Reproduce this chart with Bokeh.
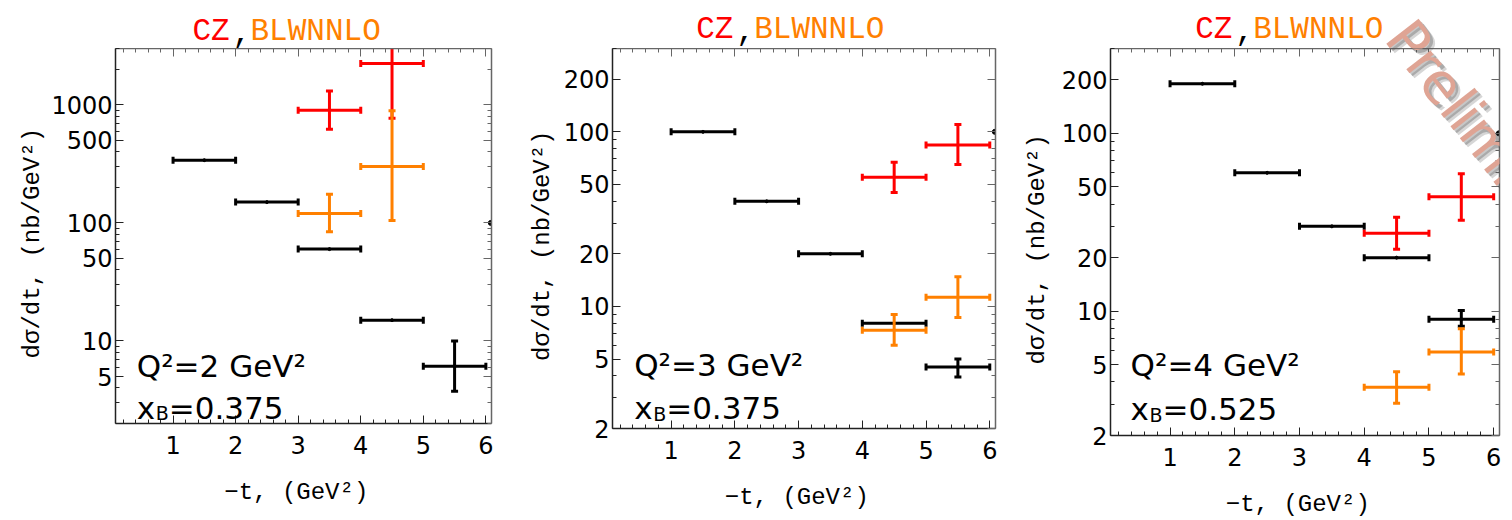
import numpy as np
from bokeh.plotting import figure
from bokeh.models import Range1d, FixedTicker, LinearAxis, LogAxis, Label
from bokeh.layouts import row, column
from bokeh.embed import file_html
from bokeh.resources import INLINE

# ---------------- data ----------------
t_lo = [1, 2, 3, 4, 5]
t_hi = [2, 3, 4, 5, 6]
t_mid = [1.5, 2.5, 3.5, 4.5, 5.5]
model_lo = [4, 5]
model_hi = [5, 6]
model_mid = [4.5, 5.5]
p1_model_lo = [3, 4]
p1_model_hi = [4, 5]
p1_model_mid = [3.5, 4.5]

# Panel 1: Q2=2, xB=0.375
p1_black = [340, 150, 60, 15, 6.1]
p1_black_elo = [340, 150, 60, 15, 3.75]
p1_black_ehi = [340, 150, 60, 15, 10.0]
p1_red = [900, 2240]
p1_red_elo = [620, 770]
p1_red_ehi = [1310, 3700]
p1_orange = [120, 300]
p1_orange_elo = [84, 105]
p1_orange_ehi = [175, 890]

# Panel 2: Q2=3, xB=0.375
p2_black = [100, 40, 20, 8.0, 4.5]
p2_black_elo = [100, 40, 20, 8.0, 3.95]
p2_black_ehi = [100, 40, 20, 8.0, 5.0]
p2_red = [55, 84]
p2_red_elo = [45, 65]
p2_red_ehi = [67, 110]
p2_orange = [7.3, 11.3]
p2_orange_elo = [6.0, 8.65]
p2_orange_ehi = [9.0, 14.8]

# Panel 3: Q2=4, xB=0.525
p3_black = [190, 60, 30, 20, 9.0]
p3_black_elo = [190, 60, 30, 20, 8.24]
p3_black_ehi = [190, 60, 30, 20, 10.1]
p3_red = [27.4, 44]
p3_red_elo = [22.3, 32.5]
p3_red_ehi = [33.7, 59.3]
p3_orange = [3.73, 5.9]
p3_orange_elo = [3.04, 4.43]
p3_orange_ehi = [4.56, 7.97]

edge_dot_x = [6.08]
edge_dot_y = [100]

x_ticks = [1, 2, 3, 4, 5, 6]
x_minor = [round(0.2 * i, 1) for i in range(1, 31)]
p1_yticks = [5, 10, 50, 100, 500, 1000]
p23_yticks = [2, 5, 10, 20, 50, 100, 200]
y_minor = [m * 10 ** e for e in range(0, 4) for m in range(1, 10)]

RED = "#FF0000"
ORANGE = "#FF8000"
BLACK = "#000000"

LW = 3
CAP = 7
TOP = 48
H = 520 - TOP


def errbars(p, lo, hi, mid, y, elo, ehi, color, dot=False):
    p.segment(x0=lo, x1=hi, y0=y, y1=y, line_color=color, line_width=LW)
    p.scatter(x=lo + hi, y=y + y, marker="dash", angle=np.pi / 2, size=CAP,
              line_color=color, line_width=LW)
    vm = [m for m, a, b in zip(mid, elo, ehi) if b > a]
    va = [a for a, b in zip(elo, ehi) if b > a]
    vb = [b for a, b in zip(elo, ehi) if b > a]
    if vm:
        p.segment(x0=vm, x1=vm, y0=va, y1=vb, line_color=color, line_width=LW)
        p.scatter(x=vm + vm, y=va + vb, marker="dash", size=CAP,
                  line_color=color, line_width=LW)
    if dot:
        p.scatter(x=mid, y=y, marker="circle", size=3, fill_color=color, line_color=color)


def panel(width, borders, yrange, yticks, ylab_standoff):
    bl, br, bb = borders
    p = figure(width=width, height=H, x_range=Range1d(0.08, 6.09),
               y_range=Range1d(*yrange), y_axis_type="log",
               output_backend="svg", toolbar_location=None,
               min_border_left=bl, min_border_right=br,
               min_border_top=0, min_border_bottom=bb)
    p.outline_line_color = None
    p.xgrid.visible = False
    p.ygrid.visible = False

    xt = FixedTicker(ticks=x_ticks, minor_ticks=x_minor)
    yt = FixedTicker(ticks=yticks, minor_ticks=y_minor)

    for ax in p.xaxis:
        ax.ticker = xt
        ax.axis_label = "−t,  (GeV²)"
        ax.major_label_standoff = 12
        ax.axis_label_standoff = 22
    for ax in p.yaxis:
        ax.ticker = yt
        ax.axis_label = "dσ/dt,  (nb/GeV²)"
        ax.major_label_standoff = 3
        ax.axis_label_standoff = ylab_standoff

    top = LinearAxis(ticker=xt)
    right = LogAxis(ticker=yt)
    p.add_layout(top, "above")
    p.add_layout(right, "right")

    for ax in list(p.xaxis) + list(p.yaxis):
        ax.major_tick_in = 8
        ax.major_tick_out = 0
        ax.minor_tick_in = 4
        ax.minor_tick_out = 0
        ax.axis_line_width = 1.5
        ax.major_tick_line_width = 1
        ax.minor_tick_line_width = 1
        ax.major_label_text_font = "DejaVu Sans"
        ax.major_label_text_font_size = "24px"
        ax.major_label_text_color = "black"
        ax.axis_label_text_font = "Liberation Mono"
        ax.axis_label_text_font_size = "24px"
        ax.axis_label_text_font_style = "normal"
        ax.axis_label_text_color = "black"
    for ax in (top, right):
        ax.major_label_text_font_size = "0px"
        ax.major_label_text_color = None
        ax.major_label_standoff = 0
        ax.axis_label = None
        ax.axis_line_color = "#666666"
        ax.major_tick_line_color = "#666666"
        ax.minor_tick_line_color = "#666666"
    for ax in p.below + p.left:
        ax.axis_line_color = "#222222"
        ax.major_tick_line_color = "#222222"
        ax.minor_tick_line_color = "#222222"
    p.scatter(x=edge_dot_x, y=edge_dot_y, marker="circle", size=5,
              fill_color=BLACK, line_color=BLACK)
    return p


def strip(main, width, bl, br):
    s = figure(width=width, height=TOP, x_range=main.x_range, y_range=Range1d(0, TOP),
               x_axis_location=None, y_axis_location=None,
               output_backend="svg", toolbar_location=None,
               min_border_left=bl, min_border_right=br,
               min_border_top=0, min_border_bottom=0)
    s.outline_line_color = None
    s.grid.visible = False
    return s


def title(s, x, y):
    kw = dict(text_font="Liberation Mono", text_font_size="31px",
              text_baseline="alphabetic", text_align="left")
    s.add_layout(Label(x=x, y=y, text="CZ", text_color=RED, **kw))
    s.add_layout(Label(x=x, y=y, x_offset=40, text=",", text_color=BLACK, **kw))
    s.add_layout(Label(x=x, y=y, x_offset=58, text="BLWNNLO", text_color=ORANGE, **kw))


def kin(p, x, yq, yx, yb, qtxt, xtxt):
    kw = dict(text_font="DejaVu Sans", text_baseline="alphabetic",
              text_align="left", text_color="black")
    p.add_layout(Label(x=x, y=yq, text=qtxt, text_font_size="31px", **kw))
    p.add_layout(Label(x=x, y=yx, text="x", text_font_size="31px", **kw))
    p.add_layout(Label(x=x, y=yb, x_offset=19, text="B", text_font_size="19px", **kw))
    p.add_layout(Label(x=x, y=yx, x_offset=32, text=xtxt, text_font_size="31px", **kw))


def watermark(fig, xs, ys):
    # xs, ys: anchors for shadow (far), shadow (near), main text
    wm = dict(text="Preliminary", text_font="DejaVu Sans", text_font_size="56px",
              angle=-0.91, angle_units="rad", text_baseline="alphabetic", text_align="left")
    fig.add_layout(Label(x=xs[0], y=ys[0], text_color="#444444", text_alpha=0.22, **wm))
    fig.add_layout(Label(x=xs[1], y=ys[1], text_color="#444444", text_alpha=0.3, **wm))
    fig.add_layout(Label(x=xs[2], y=ys[2], text_color="#DFA494", **wm))


# Panel 1
f1 = panel(508, (115, 17, 97), (2, 3000), p1_yticks, 2)
errbars(f1, t_lo, t_hi, t_mid, p1_black, p1_black_elo, p1_black_ehi, BLACK, dot=True)
errbars(f1, p1_model_lo, p1_model_hi, p1_model_mid, p1_red, p1_red_elo, p1_red_ehi, RED)
errbars(f1, p1_model_lo, p1_model_hi, p1_model_mid, p1_orange, p1_orange_elo, p1_orange_ehi, ORANGE)
kin(f1, 0.42, 6.08, 2.72, 2.44, "Q²=2 GeV²", "=0.375")
s1 = strip(f1, 508, 115, 17)
title(s1, 1.311, 17.3)

# Panel 2
f2 = panel(496, (104, 9, 92), (2, 300), p23_yticks, 5)
errbars(f2, t_lo, t_hi, t_mid, p2_black, p2_black_elo, p2_black_ehi, BLACK, dot=True)
errbars(f2, model_lo, model_hi, model_mid, p2_red, p2_red_elo, p2_red_ehi, RED)
errbars(f2, model_lo, model_hi, model_mid, p2_orange, p2_orange_elo, p2_orange_ehi, ORANGE)
kin(f2, 0.42, 4.6, 2.61, 2.41, "Q²=3 GeV²", "=0.375")
s2 = strip(f2, 496, 104, 9)
title(s2, 1.393, 18.7)

# Panel 3
f3 = panel(508, (106, 13, 84), (2, 300), p23_yticks, 8)
errbars(f3, t_lo, t_hi, t_mid, p3_black, p3_black_elo, p3_black_ehi, BLACK, dot=True)
errbars(f3, model_lo, model_hi, model_mid, p3_red, p3_red_elo, p3_red_ehi, RED)
errbars(f3, model_lo, model_hi, model_mid, p3_orange, p3_orange_elo, p3_orange_ehi, ORANGE)
kin(f3, 0.39, 4.97, 2.82, 2.61, "Q²=4 GeV²", "=0.525")
s3 = strip(f3, 508, 106, 13)
title(s3, 1.388, 18.7)
# watermark anchor (page ~1398, 27); shadows offset down-right
PX = 1 / 64.73
watermark(s3, [4.529 + 5 * PX, 4.529 + 3 * PX, 4.529], [16, 18, 21])
watermark(f3, [4.529 + 5 * PX, 4.529 + 3 * PX, 4.529],
          [300 * 10 ** (16 / 177.8), 300 * 10 ** (18 / 177.8), 300 * 10 ** (21 / 177.8)])

layout = row(column(s1, f1), column(s2, f2), column(s3, f3))
open("out.html", "w").write(file_html(layout, INLINE))
